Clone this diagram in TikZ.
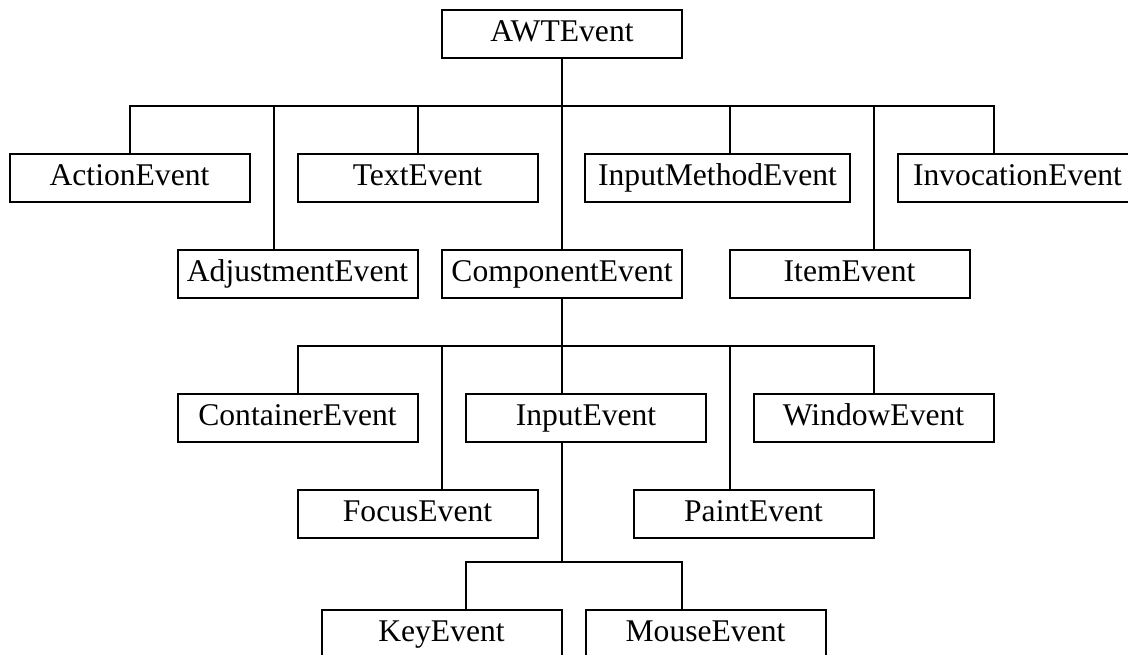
\documentclass[tikz,border=0pt]{standalone}
\usepackage{fontspec}
\setmainfont{Liberation Serif}
\begin{document}
\begin{tikzpicture}[x=0.5pt,y=-0.5pt,
  cls/.style={draw, line width=1pt, minimum width=120pt, minimum height=24pt,
              inner sep=0pt, text height=11pt, text depth=3.6pt,
              font=\fontsize{15.8}{18}\selectfont},
  link/.style={line width=1pt}]
\useasboundingbox (0,0) rectangle (1128,654);
\clip (0,0) rectangle (1128,654);

% root
\node[cls] (awt) at (562,34) {AWTEvent};

% direct subclasses of AWTEvent
\node[cls] (action)  at (129.5,178) {ActionEvent};
\node[cls] (text)    at (417.5,178) {TextEvent};
\node[cls, minimum width=132.5pt] (inmeth) at (717.5,178) {InputMethodEvent};
\node[cls] (invoc)   at (1017.5,178) {InvocationEvent};
\node[cls] (adjust)  at (297.5,274) {AdjustmentEvent};
\node[cls] (comp)    at (562,274) {ComponentEvent};
\node[cls] (item)    at (849.5,274) {ItemEvent};

% subclasses of ComponentEvent
\node[cls] (cont)    at (297.5,418) {ContainerEvent};
\node[cls] (input)   at (586,418) {InputEvent};
\node[cls] (window)  at (873.5,418) {WindowEvent};
\node[cls] (focus)   at (417.5,514) {FocusEvent};
\node[cls] (paint)   at (753.5,514) {PaintEvent};

% subclasses of InputEvent
\node[cls] (key)     at (441.5,634) {KeyEvent};
\node[cls] (mouse)   at (705.5,634) {MouseEvent};

% junctions on the three buses
\coordinate (j1) at (562,106);
\coordinate (j2) at (562,346);
\coordinate (j3) at (562,562);

% AWTEvent tree
\draw[link] (awt.south) -- (j1);
\draw[link] (action.north) |- (j1);
\draw[link] ([xshift=-12pt]adjust.north) |- (j1);
\draw[link] (text.north) |- (j1);
\draw[link] (comp.north) -- (j1);
\draw[link] ([xshift=6.25pt]inmeth.north) |- (j1);
\draw[link] ([xshift=12pt]item.north) |- (j1);
\draw[link] ([xshift=-12pt]invoc.north) |- (j1);

% ComponentEvent tree
\draw[link] (comp.south) -- (j2);
\draw[link] (cont.north) |- (j2);
\draw[link] ([xshift=12pt]focus.north) |- (j2);
\draw[link] ([xshift=-12pt]input.north) |- (j2);
\draw[link] ([xshift=-12pt]paint.north) |- (j2);
\draw[link] (window.north) |- (j2);

% InputEvent tree
\draw[link] ([xshift=-12pt]input.south) -- (j3);
\draw[link] ([xshift=12pt]key.north) |- (j3);
\draw[link] ([xshift=-12pt]mouse.north) |- (j3);
\end{tikzpicture}
\end{document}
